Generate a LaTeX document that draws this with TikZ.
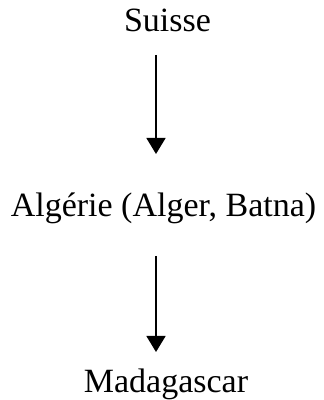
\documentclass[tikz,border=0pt]{standalone}
\usepackage{fontspec}
\setmainfont{Liberation Serif}
\usetikzlibrary{arrows.meta}
\begin{document}
\begin{tikzpicture}[x=1pt,y=1pt,
  lbl/.style={anchor=base,inner sep=0pt,font=\fontsize{34}{40}\selectfont},
  conn/.style={line width=1.5pt,-{Triangle[length=16pt,width=19pt]}}]
\useasboundingbox (0,0) rectangle (324,400);
\node[lbl] (s) at (167.5,368) {Suisse};
\node[lbl] (a) at (163.5,183) {Algérie (Alger, Batna)};
\node[lbl] (m) at (166,8) {Madagascar};
\coordinate (s1) at (156,345);
\coordinate (e1) at (156,246);
\coordinate (s2) at (156,144);
\coordinate (e2) at (156,48);
\draw[conn] (s1) -- (e1);
\draw[conn] (s2) -- (e2);
\end{tikzpicture}
\end{document}
